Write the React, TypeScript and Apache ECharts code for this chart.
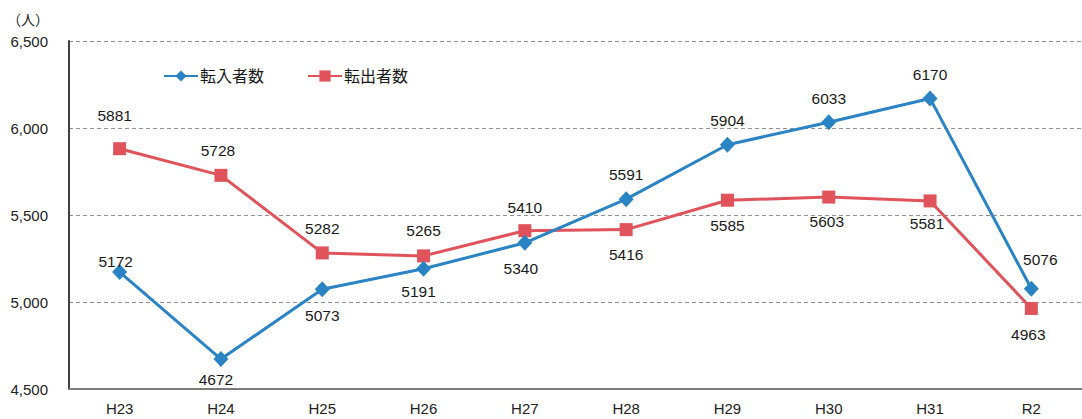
import React, { useEffect, useRef } from "react";
import * as echarts from "echarts";

const categories = ["H23", "H24", "H25", "H26", "H27", "H28", "H29", "H30", "H31", "R2"];
const inflow = [5172, 4672, 5073, 5191, 5340, 5591, 5904, 6033, 6170, 5076];
const outflow = [5881, 5728, 5282, 5265, 5410, 5416, 5585, 5603, 5581, 4963];
const seriesNames = ["転入者数", "転出者数"];
const unitLabel = "（人）";

// label placement offsets [dx, dy] relative to each point
const inflowLabelOffsets = [
  [-4, -11], [-5, 20], [0, 26], [-5, 23], [-4, 26],
  [0, -25], [0, -24], [0, -24], [0, -24], [9, -29],
];
const outflowLabelOffsets = [
  [-5, -33], [-3, -25], [0, -24], [0, -25], [0, -23],
  [0, 25], [0, 25], [-2, 24], [-3, 23], [-3, 26],
];

const FONT = "'Liberation Sans', Arial, 'Noto Sans CJK JP', sans-serif";
const BLUE = "#2a83c3";
const RED = "#e0535a";

function build(values: number[], offsets: number[][]) {
  return values.map((v, i) => ({
    value: v,
    label: { offset: offsets[i] },
  }));
}

export default function App() {
  const ref = useRef<HTMLDivElement>(null);
  useEffect(() => {
    if (!ref.current) return;
    const chart = echarts.init(ref.current, undefined, { renderer: "svg" });
    const labelStyle = {
      show: true,
      position: "inside",
      color: "#1a1a1a",
      fontSize: 15.5,
      fontFamily: FONT,
    };
    chart.setOption({
      animation: false,
      backgroundColor: "#ffffff",
      textStyle: { fontFamily: FONT },
      graphic: [
        {
          type: "text",
          left: 7,
          top: 13,
          style: { text: unitLabel, fontSize: 14, fill: "#222", fontFamily: FONT },
        },
      ],
      legend: {
        left: 158,
        top: 63,
        itemWidth: 34,
        itemHeight: 14,
        itemGap: 43,
        textStyle: { fontSize: 16, color: "#1a1a1a", fontFamily: FONT, padding: [0, 0, 0, -3] },
        data: seriesNames,
      },
      grid: { left: 69, top: 41, width: 1017, height: 348 },
      xAxis: {
        type: "category",
        data: categories,
        boundaryGap: true,
        axisLine: { lineStyle: { color: "#7a7a7a", width: 2 } },
        axisTick: { show: false },
        axisLabel: { color: "#222", fontSize: 15, margin: 12, fontFamily: FONT },
        splitLine: { show: false },
      },
      yAxis: {
        type: "value",
        min: 4500,
        max: 6500,
        interval: 500,
        axisLine: { show: true, lineStyle: { color: "#404040", width: 2 } },
        axisTick: { show: false },
        axisLabel: {
          color: "#222",
          fontSize: 15,
          margin: 21,
          fontFamily: FONT,
          formatter: (v: number) => v.toLocaleString("en-US"),
        },
        splitLine: { show: true, lineStyle: { color: "#909090", type: [4, 3], width: 1 } },
      },
      series: [
        {
          name: seriesNames[0],
          type: "line",
          data: build(inflow, inflowLabelOffsets),
          symbol: "diamond",
          symbolSize: [15, 16],
          lineStyle: { color: BLUE, width: 3 },
          itemStyle: { color: BLUE },
          label: labelStyle,
          z: 3,
        },
        {
          name: seriesNames[1],
          type: "line",
          data: build(outflow, outflowLabelOffsets),
          symbol: "rect",
          symbolSize: 13,
          lineStyle: { color: RED, width: 3 },
          itemStyle: { color: RED },
          label: labelStyle,
          z: 2,
        },
      ],
    });
    return () => chart.dispose();
  }, []);
  return (
    <div
      ref={ref}
      style={{ position: "absolute", left: 0, top: 0, width: 1082, height: 419 }}
    />
  );
}
